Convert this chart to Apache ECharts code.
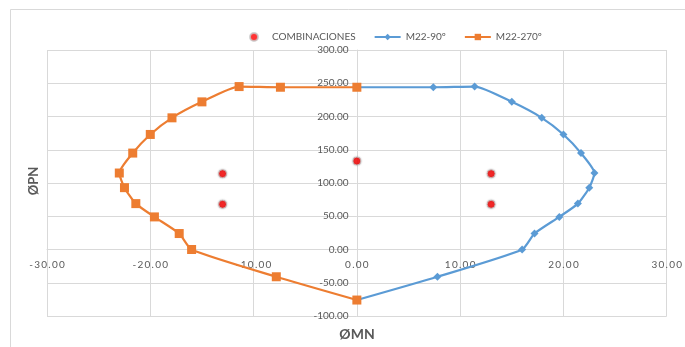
<!DOCTYPE html>
<html>
<head>
<meta charset="utf-8">
<script src="https://cdn.jsdelivr.net/npm/echarts@6/dist/echarts.min.js"></script>
<style>
	html, body { margin: 0; padding: 0; background: #fff; }
	#chart { width: 685px; height: 347px; }
</style>
</head>
<body>
<div id="chart"></div>
<script>
// interaction diagram points (MN, PN)
var mn90 = [0, 7.4, 11.4, 15.0, 17.9, 20.0, 21.7, 23.0, 22.5, 21.4, 19.6, 17.2, 16.0, 7.8, 0];
var pn90 = [244, 244, 245, 222, 198, 173, 145, 115, 93, 69, 49, 24, 0, -41, -76];
var mn270 = [0, -7.4, -11.4, -15.0, -17.9, -20.0, -21.7, -23.0, -22.5, -21.4, -19.6, -17.2, -16.0, -7.8, 0];
var pn270 = [244, 244, 245, 222, 198, 173, 145, 115, 93, 69, 49, 24, 0, -41, -76];
var combMN = [-13.0, -13.0, 0, 13.0, 13.0];
var combPN = [114, 68, 133, 114, 68];

function pairs(xs, ys) {
	var out = [];
	for (var i = 0; i < xs.length; i++) {
		out.push([xs[i], ys[i]]);
	}
	return out;
}

var font = 'Lato, "Open Sans", sans-serif';
var grey = '#595959';

// plot box: x 47..668, y 50..316 ; the axes cross at (0,0)
var gLeft = 47, gRight = 17, gTop = 50, gBottom = 31;
var plotW = 685 - gLeft - gRight, plotH = 347 - gTop - gBottom;
var xOff = -plotW * (0 - (-30)) / 60;     // move y axis to x = 0
var yOff = -plotH * (0 - (-100)) / 400;   // move x axis to y = 0

var chart = echarts.init(document.getElementById('chart'));
var option = {
	animation: false,
	backgroundColor: '#fff',
	textStyle: { fontFamily: font },
	graphic: [
		{ type: 'rect', left: 8, top: 7, shape: { width: 700, height: 360 }, style: { fill: 'none', stroke: '#d9d9d9', lineWidth: 1 } },
		{ type: 'text', x: 357, y: 334, style: { text: 'ØMN', font: 'bold 14px ' + font, fill: grey, align: 'center', verticalAlign: 'middle' } },
		{ type: 'text', x: 34, y: 181, rotation: Math.PI / 2, style: { text: 'ØPN', font: 'bold 13px ' + font, fill: grey, align: 'center', verticalAlign: 'middle' } }
	],
	legend: {
		top: 27,
		left: 244,
		itemGap: 18,
		itemWidth: 26,
		itemHeight: 8,
		textStyle: { color: grey, fontSize: 10, fontFamily: font },
		data: [
			{ name: 'COMBINACIONES', icon: 'circle', itemStyle: { color: '#ff0000' } },
			'M22-90º',
			'M22-270º'
		]
	},
	grid: { left: gLeft, right: gRight, top: gTop, bottom: gBottom },
	xAxis: {
		type: 'value',
		min: -30,
		max: 30,
		interval: 10,
		position: 'bottom',
		offset: yOff,
		axisLine: { onZero: false, lineStyle: { color: '#d9d9d9' } },
		axisTick: { show: false },
		axisLabel: {
			color: grey,
			fontSize: 10,
			margin: 10,
			formatter: function (v) { return v.toFixed(2).split('').join('\u2009'); }
		},
		splitLine: { show: true, lineStyle: { color: '#d9d9d9' } }
	},
	yAxis: {
		type: 'value',
		min: -100,
		max: 300,
		interval: 50,
		position: 'left',
		offset: xOff,
		axisLine: { onZero: false, lineStyle: { color: '#d9d9d9' } },
		axisTick: { show: false },
		axisLabel: {
			color: grey,
			fontSize: 10,
			margin: 9,
			formatter: function (v) { return v.toFixed(2); }
		},
		splitLine: { show: true, lineStyle: { color: '#d9d9d9' } }
	},
	series: [
		{
			name: 'COMBINACIONES',
			type: 'scatter',
			symbol: 'circle',
			symbolSize: 8,
			z: 5,
			itemStyle: { color: '#ff0000', borderColor: '#c8c8c8', borderWidth: 1, shadowColor: 'rgba(0,0,0,0.3)', shadowBlur: 2 },
			data: pairs(combMN, combPN)
		},
		{
			name: 'M22-90º',
			type: 'line',
			smooth: 0.2,
			symbol: 'diamond',
			symbolSize: 8,
			showAllSymbol: true,
			lineStyle: { color: '#5b9bd5', width: 2.2 },
			itemStyle: { color: '#5b9bd5' },
			data: pairs(mn90, pn90)
		},
		{
			name: 'M22-270º',
			type: 'line',
			smooth: 0.2,
			symbol: 'rect',
			symbolSize: 9,
			showAllSymbol: true,
			lineStyle: { color: '#ed7d31', width: 2.2 },
			itemStyle: { color: '#ed7d31' },
			data: pairs(mn270, pn270)
		}
	]
};
chart.setOption(option);
</script>
</body>
</html>
